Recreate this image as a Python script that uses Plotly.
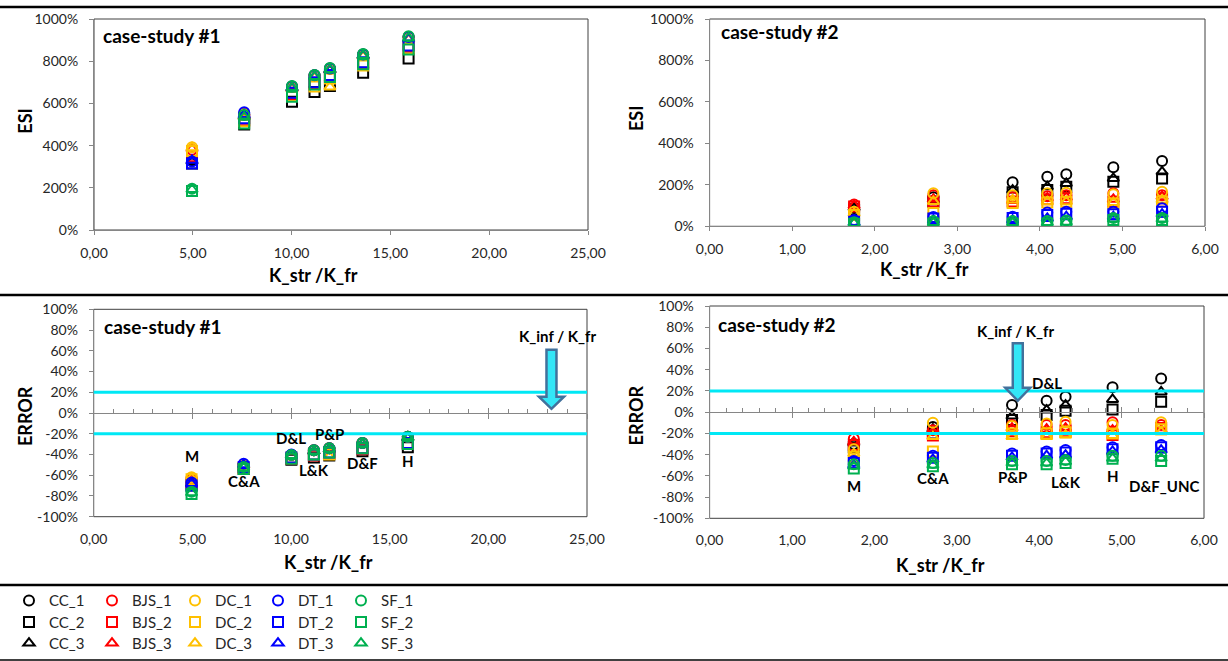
import plotly.graph_objects as go

W, H = 1228, 661

# ---------------------------------------------------------------- data
# K_str / K_fr of the seven buildings of each case-study
x_cs1 = [4.96, 7.60, 10.02, 11.16, 11.94, 13.62, 15.92]
x_cs2 = [1.75, 2.71, 3.67, 4.09, 4.32, 4.89, 5.48]

lbl_cs1 = ["M", "C&A", "D&L", "L&K", "P&P", "D&F", "H"]
lbl_cs2 = ["M", "C&A", "P&P", "D&L", "L&K", "H", "D&F_UNC"]

# K_inf / K_fr marker value
kinf_cs1 = 23.2
kinf_cs2 = 3.74

# acceptance band for the error (%)
err_limit = 20

# case-study #1 : ESI (%)
esi1_cc_1 = [330, 550, 680, 733, 765, 832, 915]
esi1_cc_2 = [315, 500, 608, 654, 683, 745, 813]
esi1_cc_3 = [325, 540, 672, 726, 758, 825, 905]
esi1_bjs_1 = [380, 548, 678, 732, 764, 830, 913]
esi1_bjs_2 = [350, 520, 645, 695, 728, 790, 870]
esi1_bjs_3 = [385, 538, 670, 725, 757, 824, 905]
esi1_dc_1 = [392, 548, 678, 730, 763, 830, 912]
esi1_dc_2 = [375, 515, 635, 680, 718, 780, 860]
esi1_dc_3 = [390, 535, 668, 722, 678, 822, 903]
esi1_dt_1 = [325, 558, 680, 733, 765, 832, 915]
esi1_dt_2 = [315, 530, 650, 700, 735, 795, 875]
esi1_dt_3 = [330, 545, 672, 727, 758, 826, 906]
esi1_sf_1 = [195, 545, 682, 735, 768, 834, 918]
esi1_sf_2 = [185, 505, 632, 690, 725, 785, 855]
esi1_sf_3 = [192, 535, 675, 728, 760, 828, 910]

# case-study #1 : ERROR (%)
err1_cc_1 = [-68, -50, -40.5, -36, -34, -29, -23]
err1_cc_2 = [-70, -54, -45, -43, -41, -37, -33]
err1_cc_3 = [-68, -51, -41, -37, -35, -30, -24]
err1_bjs_1 = [-64, -50, -40.5, -36, -34, -29, -23]
err1_bjs_2 = [-67, -53, -44, -41, -39, -35, -30]
err1_bjs_3 = [-64, -51, -41, -37, -35, -30, -24]
err1_dc_1 = [-62, -50, -40.5, -36, -34, -29, -23]
err1_dc_2 = [-64, -53, -43, -40, -40, -34, -29]
err1_dc_3 = [-63, -51, -41, -37, -42, -30, -24]
err1_dt_1 = [-67, -49, -40, -36, -34, -29, -23]
err1_dt_2 = [-70, -52, -43, -40, -38, -34, -29]
err1_dt_3 = [-68, -50, -41, -37, -35, -30, -24]
err1_sf_1 = [-76, -52, -40.5, -36, -34, -29, -23]
err1_sf_2 = [-78, -54, -44, -40, -38, -34, -30]
err1_sf_3 = [-77, -53, -41, -37, -35, -30, -24]

# case-study #2 : ESI (%)
esi2_cc_1 = [88, 140, 212, 239, 251, 285, 315]
esi2_cc_2 = [80, 118, 164, 175, 191, 215, 231]
esi2_cc_3 = [90, 127, 175, 191, 207, 231, 263]
esi2_bjs_1 = [105, 150, 140, 145, 150, 159, 150]
esi2_bjs_2 = [95, 120, 120, 130, 135, 119, 135]
esi2_bjs_3 = [100, 130, 125, 136, 140, 130, 143]
esi2_dc_1 = [70, 159, 150, 159, 162, 155, 167]
esi2_dc_2 = [55, 64, 112, 115, 118, 110, 120]
esi2_dc_3 = [62, 120, 127, 119, 119, 115, 127]
esi2_dt_1 = [30, 45, 46, 66, 70, 70, 87]
esi2_dt_2 = [22, 38, 40, 55, 60, 58, 70]
esi2_dt_3 = [18, 30, 30, 38, 46, 46, 59]
esi2_sf_1 = [20, 25, 25, 25, 28, 40, 40]
esi2_sf_2 = [12, 14, 14, 14, 14, 30, 30]
esi2_sf_3 = [15, 18, 18, 18, 20, 35, 35]

# case-study #2 : ERROR (%)
err2_cc_1 = [-30, -14, 6.7, 10.8, 14.5, 23.4, 31.8]
err2_cc_2 = [-33, -20, -7.4, -2.7, 1.3, 2.6, 9.8]
err2_cc_3 = [-29, -16, -3.7, 2, 6.7, 12, 19]
err2_bjs_1 = [-25, -17, -12, -12, -12, -9.6, -12]
err2_bjs_2 = [-31, -22, -18, -19, -18, -21.6, -15]
err2_bjs_3 = [-28, -19, -15, -16, -15, -17, -17]
err2_dc_1 = [-35, -10, -13, -10.6, -9, -12, -9.6]
err2_dc_2 = [-42, -37, -20, -20, -19, -20, -16]
err2_dc_3 = [-39, -23, -23, -23, -21.6, -22, -18.5]
err2_dt_1 = [-46, -41, -39, -37, -35.7, -33, -31]
err2_dt_2 = [-48, -43, -41, -39, -38, -35, -33]
err2_dt_3 = [-50, -44.5, -42.6, -41, -40.4, -37, -35.7]
err2_sf_1 = [-49, -48, -46, -46, -45, -41, -41]
err2_sf_2 = [-53, -51, -49, -49, -48, -44, -46]
err2_sf_3 = [-51, -50, -48, -48, -46.7, -43.5, -43.5]

# tick labels
esi_ticks = [0, 200, 400, 600, 800, 1000]
err_ticks = [-100, -80, -60, -40, -20, 0, 20, 40, 60, 80, 100]

# ---------------------------------------------------------------- series table
method_color = {"CC": "#000000", "BJS": "#FF0000", "DC": "#FFC000",
                "DT": "#0000FF", "SF": "#00B050"}
variant_symbol = {"1": "circle-open", "2": "square-open", "3": "triangle-up-open"}
variant_legend = {"1": "legend", "2": "legend2", "3": "legend3"}

series = [
    ("CC", "1", esi1_cc_1, err1_cc_1, esi2_cc_1, err2_cc_1),
    ("CC", "2", esi1_cc_2, err1_cc_2, esi2_cc_2, err2_cc_2),
    ("CC", "3", esi1_cc_3, err1_cc_3, esi2_cc_3, err2_cc_3),
    ("BJS", "1", esi1_bjs_1, err1_bjs_1, esi2_bjs_1, err2_bjs_1),
    ("BJS", "2", esi1_bjs_2, err1_bjs_2, esi2_bjs_2, err2_bjs_2),
    ("BJS", "3", esi1_bjs_3, err1_bjs_3, esi2_bjs_3, err2_bjs_3),
    ("DC", "1", esi1_dc_1, err1_dc_1, esi2_dc_1, err2_dc_1),
    ("DC", "2", esi1_dc_2, err1_dc_2, esi2_dc_2, err2_dc_2),
    ("DC", "3", esi1_dc_3, err1_dc_3, esi2_dc_3, err2_dc_3),
    ("DT", "1", esi1_dt_1, err1_dt_1, esi2_dt_1, err2_dt_1),
    ("DT", "2", esi1_dt_2, err1_dt_2, esi2_dt_2, err2_dt_2),
    ("DT", "3", esi1_dt_3, err1_dt_3, esi2_dt_3, err2_dt_3),
    ("SF", "1", esi1_sf_1, err1_sf_1, esi2_sf_1, err2_sf_1),
    ("SF", "2", esi1_sf_2, err1_sf_2, esi2_sf_2, err2_sf_2),
    ("SF", "3", esi1_sf_3, err1_sf_3, esi2_sf_3, err2_sf_3),
]

# ---------------------------------------------------------------- helpers
def fx(px):
    return px / W


def fy(py):
    return 1 - py / H


FONT = "Lato, 'Open Sans', sans-serif"
TXT = "#262626"
AX = "#868686"
FRAME = "#404040"
CYAN = "#00E8F5"

# plot areas in pixels: (left, right, top, bottom)
areas = {
    1: (94, 588, 19, 230),
    2: (709.6, 1205, 19, 226.3),
    3: (93.7, 587, 309.3, 516.7),
    4: (709.6, 1204, 306, 518.3),
}

fig = go.Figure()

# ---------------------------------------------------------------- markers
for method, var, e1, r1, e2, r2 in series:
    name = f"{method}_{var}"
    mk = dict(symbol=variant_symbol[var], size=10, color=method_color[method],
              line=dict(width=2, color=method_color[method]))
    for k, (xs, ys) in enumerate([(x_cs1, e1), (x_cs2, e2), (x_cs1, r1), (x_cs2, r2)], start=1):
        fig.add_trace(go.Scatter(
            x=xs, y=ys, mode="markers", marker=mk, name=name,
            legendgroup=name, legend=variant_legend[var],
            showlegend=(k == 1),
            xaxis="x" if k == 1 else f"x{k}", yaxis="y" if k == 1 else f"y{k}",
        ))

# empty traces so the zero-line tick axes are drawn
for xa, ya in [("x5", "y3"), ("x6", "y3"), ("x7", "y4"), ("x8", "y4")]:
    fig.add_trace(go.Scatter(x=[], y=[], xaxis=xa, yaxis=ya, showlegend=False,
                             hoverinfo="skip"))

# ---------------------------------------------------------------- axes
tickfont = dict(family=FONT, size=14, color=TXT)
layout_axes = {}
for k, (l, r, t, b) in areas.items():
    xkey = "xaxis" if k == 1 else f"xaxis{k}"
    ykey = "yaxis" if k == 1 else f"yaxis{k}"
    yname = "y" if k == 1 else f"y{k}"
    xname = "x" if k == 1 else f"x{k}"
    wide = k in (1, 3)
    xmax = 25 if wide else 6
    xdt = 5 if wide else 1
    top_row = k in (1, 2)
    layout_axes[xkey] = dict(
        domain=[fx(l), fx(r)], anchor=yname, range=[0, xmax],
        tickmode="linear", tick0=0, dtick=xdt, tickformat=".2f",
        showgrid=False, zeroline=False,
        showline=top_row, linecolor=AX, linewidth=1,
        ticks="outside" if top_row else "", ticklen=4, tickcolor=AX,
        ticklabelstandoff=6 if top_row else 12,
        tickfont=tickfont, fixedrange=True, automargin=False,
    )
    yt = esi_ticks if top_row else err_ticks
    layout_axes[ykey] = dict(
        domain=[fy(b), fy(t)], anchor=xname,
        range=[yt[0], yt[-1]], tickmode="array", tickvals=yt,
        ticktext=[f"{v}%" for v in yt],
        showgrid=False, zeroline=False, showline=True, linecolor=AX, linewidth=1,
        ticks="outside", ticklen=4, tickcolor=AX, ticklabelstandoff=8,
        tickfont=tickfont, fixedrange=True, automargin=False,
    )

# zero-line axes of the ERROR panels (ticks crossing the 0 % line)
for base, inner, outer, (l, r, t, b), minor_dt in [
    ("x3", "xaxis5", "xaxis6", areas[3], 1),
    ("x4", "xaxis7", "xaxis8", areas[4], 0.2),
]:
    zero_pos = fy((t + b) / 2)
    xmax = 25 if base == "x3" else 6
    xdt = 5 if base == "x3" else 1
    common = dict(overlaying=base, anchor="free", position=zero_pos,
                  range=[0, xmax], tickmode="linear", tick0=0, dtick=xdt,
                  showgrid=False, zeroline=False, showticklabels=False,
                  tickcolor=AX, linecolor=AX, fixedrange=True, automargin=False)
    layout_axes[inner] = dict(common, showline=True, linewidth=1, ticks="inside",
                              ticklen=5,
                              minor=dict(ticks="inside", ticklen=4, dtick=minor_dt,
                                         tick0=0, tickcolor=AX))
    layout_axes[outer] = dict(common, showline=False, ticks="outside", ticklen=5)

fig.update_layout(**layout_axes)

# ---------------------------------------------------------------- shapes
shapes = []
# plot-area frames
for k in areas:
    xr = "x" if k == 1 else f"x{k}"
    yr = "y" if k == 1 else f"y{k}"
    shapes.append(dict(type="rect", xref=f"{xr} domain", yref=f"{yr} domain",
                       x0=0, x1=1, y0=0, y1=1, line=dict(color=FRAME, width=1),
                       layer="below"))
# +/- acceptance band lines
for k in (3, 4):
    for lim in (err_limit, -err_limit):
        shapes.append(dict(type="line", xref=f"x{k} domain", yref=f"y{k}",
                           x0=0, x1=1, y0=lim, y1=lim,
                           line=dict(color=CYAN, width=3)))
# block arrows pointing at K_inf / K_fr
for k, xv, y_top, y_sh, y_tip in [(3, kinf_cs1, 61, 15.7, 4), (4, kinf_cs2, 65, 23, 10.7)]:
    path = (f"M -5,{y_top} L 5,{y_top} L 5,{y_sh} L 12.5,{y_sh} L 0,{y_tip} "
            f"L -12.5,{y_sh} L -5,{y_sh} Z")
    shapes.append(dict(type="path", xref=f"x{k}", yref=f"y{k}", xsizemode="pixel",
                       xanchor=xv, path=path, fillcolor="#33E6F7",
                       line=dict(color="#41719C", width=2.5)))
# table rules
for py, lw in [(7, 2.5), (295, 2.5), (585, 2.5), (660, 1.5)]:
    shapes.append(dict(type="line", xref="paper", yref="paper", x0=0, x1=1,
                       y0=fy(py), y1=fy(py), line=dict(color="#000000", width=lw)))
fig.update_layout(shapes=shapes)

# ---------------------------------------------------------------- text
ann = []
bold = lambda s: f"<b>{s}</b>"
# panel titles
for px, py, txt in [(101, 36, "case-study #1"), (718.7, 31.7, "case-study #2"),
                    (102, 326.7, "case-study #1"), (716, 324.3, "case-study #2")]:
    ann.append(dict(xref="paper", yref="paper", x=fx(px), y=fy(py), text=bold(txt),
                    showarrow=False, xanchor="left", yanchor="middle",
                    font=dict(family=FONT, size=19, color="#000000")))
# axis titles
for px, py in [(313, 275), (924, 269.3), (328, 561.7), (940, 565)]:
    ann.append(dict(xref="paper", yref="paper", x=fx(px), y=fy(py),
                    text=bold("K_str /K_fr"), showarrow=False,
                    xanchor="center", yanchor="middle",
                    font=dict(family=FONT, size=18, color="#000000")))
for px, py, txt in [(25, 120.7, "ESI"), (636, 118, "ESI"),
                    (24.3, 415.7, "ERROR"), (635.7, 415.7, "ERROR")]:
    ann.append(dict(xref="paper", yref="paper", x=fx(px), y=fy(py), text=bold(txt),
                    showarrow=False, textangle=-90, xanchor="center", yanchor="middle",
                    font=dict(family=FONT, size=18, color="#000000")))
# K_inf / K_fr captions
for k, xv, yv in [(3, kinf_cs1 + 0.3, 74), (4, kinf_cs2 - 0.03, 76)]:
    ann.append(dict(xref=f"x{k}", yref=f"y{k}", x=xv, y=yv, text=bold("K_inf / K_fr"),
                    showarrow=False, xanchor="center", yanchor="middle",
                    font=dict(family=FONT, size=15, color="#000000")))
# building labels in the ERROR panels
lbl_y_cs1 = [-41, -66, -24.4, -55, -20, -48.5, -46]
lbl_y_cs2 = [-69.6, -61.8, -60.8, 27.7, -66, -60, -69.6]
lbl_dx_cs2 = [0, 0, 0, 0, 0, 0, 0.04]
for xv, yv, t in zip(x_cs1, lbl_y_cs1, lbl_cs1):
    ann.append(dict(xref="x3", yref="y3", x=xv, y=yv, text=bold(t), showarrow=False,
                    xanchor="center", yanchor="middle",
                    font=dict(family=FONT, size=15, color="#000000")))
for xv, yv, dx, t in zip(x_cs2, lbl_y_cs2, lbl_dx_cs2, lbl_cs2):
    ann.append(dict(xref="x4", yref="y4", x=xv + dx, y=yv, text=bold(t),
                    showarrow=False, xanchor="center", yanchor="middle",
                    font=dict(family=FONT, size=15, color="#000000")))
fig.update_layout(annotations=ann)

# ---------------------------------------------------------------- legends
leg_common = dict(orientation="h", xanchor="left", yanchor="middle",
                  bgcolor="rgba(0,0,0,0)", borderwidth=0, itemwidth=30,
                  entrywidth=38, entrywidthmode="pixels",
                  font=dict(family=FONT, size=15, color=TXT),
                  itemclick=False, itemdoubleclick=False)
fig.update_layout(
    legend=dict(leg_common, x=fx(9), y=fy(600.7)),
    legend2=dict(leg_common, x=fx(9), y=fy(622.3)),
    legend3=dict(leg_common, x=fx(9), y=fy(643.3)),
)

fig.update_layout(
    width=W, height=H, autosize=False,
    margin=dict(l=0, r=0, t=0, b=0, pad=0, autoexpand=False),
    paper_bgcolor="#FFFFFF", plot_bgcolor="#FFFFFF",
    separators=",.",
    font=dict(family=FONT, size=14, color=TXT),
    hovermode=False,
)

fig.write_html("out.html", config={"displayModeBar": False})
